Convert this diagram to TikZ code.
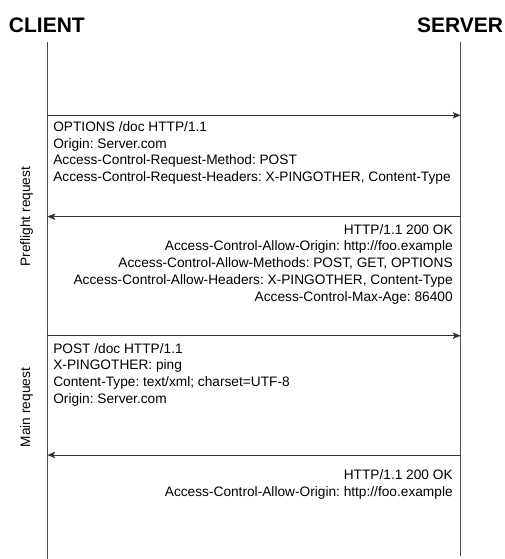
\documentclass[tikz,border=0pt]{standalone}
\usepackage{fontspec}
\setmainfont{Liberation Sans}
\usetikzlibrary{arrows.meta,positioning}
\tikzstyle{every node}=[inner sep=0pt, outer sep=0pt]
\frenchspacing

\begin{document}
\begin{tikzpicture}[
    x=1pt, y=-1pt,
    actor/.style={
        font=\fontsize{21}{24}\selectfont\bfseries},
    lifeline/.style={
        draw=black!70,
        line width=0.8pt},
    message/.style={
        draw=black!80,
        line width=0.8pt,
        -{Stealth[length=8pt,width=6.5pt,inset=2pt]}},
    request/.style={
        align=left,
        font=\fontsize{13.7}{16.7}\selectfont},
    response/.style={
        align=right,
        font=\fontsize{13.7}{16.7}\selectfont},
    phase/.style={
        rotate=90,
        font=\fontsize{13.7}{16}\selectfont},
  ]
  \useasboundingbox (0,0) rectangle (504,559);
  % Actors
  \node[actor, anchor=west] (client) at (9,25.5) {CLIENT};
  \node[actor, anchor=east] (server) at (503,25.5) {SERVER};
  % Lifelines
  \coordinate (ctop) at (47.3,42.3);
  \coordinate (cbot) at (47.3,559);
  \coordinate (stop) at (460.7,42.3);
  \coordinate (sbot) at (460.7,556);
  \draw[lifeline] (ctop) -- (cbot);
  \draw[lifeline] (stop) -- (sbot);
  % Message ends
  \coordinate (c1) at (47.3,115.3);  \coordinate (s1) at (460.7,115.3);
  \coordinate (c2) at (47.3,216.7);  \coordinate (s2) at (460.7,216.7);
  \coordinate (c3) at (47.3,335.7);  \coordinate (s3) at (460.7,335.7);
  \coordinate (c4) at (47.3,455);    \coordinate (s4) at (460.7,455);
  % Preflight request
  \draw[message] (c1) -- (s1);
  \node[request, below right=6.3pt and 6pt of c1] (options) {OPTIONS /doc HTTP/1.1\\
      Origin: Server.com\\
      Access-Control-Request-Method: POST\\
      Access-Control-Request-Headers: X-PINGOTHER, Content-Type};
  \draw[message] (s2) -- (c2);
  \node[response, below left=7.6pt and 8pt of s2] (allow) {HTTP/1.1 200 OK\\
      Access-Control-Allow-Origin: http://foo.example\\
      Access-Control-Allow-Methods: POST, GET, OPTIONS\\
      Access-Control-Allow-Headers: X-PINGOTHER, Content-Type\\
      Access-Control-Max-Age: 86400};
  % Main request
  \draw[message] (c3) -- (s3);
  \node[request, below right=7.6pt and 6pt of c3] (post) {POST /doc HTTP/1.1\\
      X-PINGOTHER: ping\\
      Content-Type: text/xml; charset=UTF-8\\
      Origin: Server.com};
  \draw[message] (s4) -- (c4);
  \node[response, below left=15pt and 8pt of s4] (ok) {HTTP/1.1 200 OK\\
      Access-Control-Allow-Origin: http://foo.example};
  % Phases
  \node[phase] (preflight) at (26.5,216.7) {Preflight request};
  \node[phase] (main) at (26.5,407.5) {Main request};
\end{tikzpicture}
\end{document}
